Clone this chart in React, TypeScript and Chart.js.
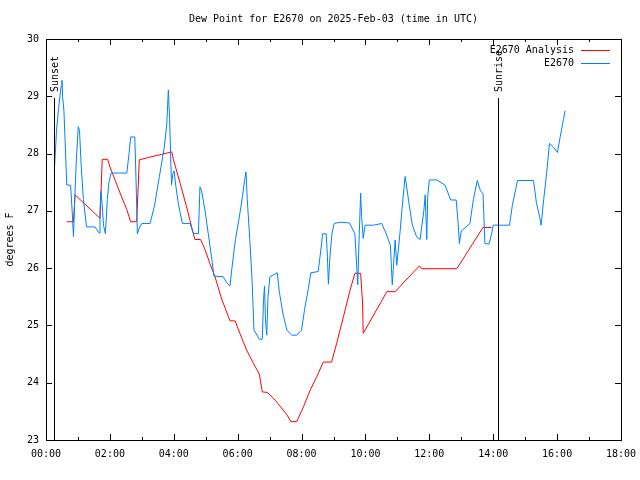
import { useEffect, useRef } from 'react';
import { Chart, registerables } from 'chart.js';

Chart.register(...registerables);

const FONT = '"DejaVu Sans Mono", "Liberation Mono", monospace';

const TITLE = 'Dew Point for E2670 on 2025-Feb-03 (time in UTC)';
const Y_LABEL = 'degrees F';
const ANALYSIS_LABEL = 'E2670 Analysis';
const OBS_LABEL = 'E2670';

const X_MIN = 0;
const X_MAX = 18;
const Y_MIN = 23;
const Y_MAX = 30;

// hours (UTC, decimal) and dew point values (°F)
const analysisHours = [
  0.65, 0.86, 0.91, 1.69, 1.76, 1.93, 2.0, 2.32, 2.53, 2.65, 2.84, 2.92, 3.26, 3.57, 3.94,
  3.99, 4.2, 4.4, 4.56, 4.66, 4.84, 4.98, 5.13, 5.29, 5.5, 5.76, 5.92, 6.07, 6.28, 6.49,
  6.68, 6.77, 6.93, 7.12, 7.33, 7.54, 7.67, 7.85, 8.06, 8.27, 8.48, 8.68, 8.94, 9.1, 9.31,
  9.52, 9.67, 9.85, 9.91, 9.93, 10.67, 10.93, 11.08, 11.69, 11.76, 12.86, 13.68, 13.95,
];
const analysisValues = [
  26.81, 26.81, 27.28, 26.87, 27.9, 27.9, 27.77, 27.31, 27.02, 26.81, 26.81, 27.89, 27.94, 27.98, 28.03,
  27.89, 27.48, 27.07, 26.72, 26.5, 26.5, 26.32, 26.08, 25.85, 25.46, 25.08, 25.08, 24.86, 24.57, 24.34,
  24.15, 23.84, 23.83, 23.73, 23.59, 23.44, 23.32, 23.32, 23.58, 23.87, 24.11, 24.36, 24.36, 24.69, 25.15,
  25.62, 25.91, 25.91, 25.39, 24.86, 25.59, 25.59, 25.68, 26.04, 25.99, 25.99, 26.71, 26.71,
];

const obsHours = [
  0.26, 0.33, 0.39, 0.47, 0.5, 0.52, 0.56, 0.6, 0.65, 0.77, 0.82, 0.86, 0.9, 0.95, 1.01,
  1.05, 1.1, 1.17, 1.27, 1.53, 1.67, 1.69, 1.72, 1.76, 1.8, 1.86, 1.92, 1.97, 2.04, 2.53,
  2.6, 2.65, 2.78, 2.82, 2.86, 2.92, 3.0, 3.26, 3.4, 3.55, 3.7, 3.78, 3.83, 3.87, 3.91,
  3.93, 3.97, 4.01, 4.06, 4.15, 4.27, 4.51, 4.61, 4.77, 4.82, 4.87, 4.98, 5.08, 5.18, 5.26,
  5.55, 5.65, 5.76, 5.82, 5.93, 6.04, 6.15, 6.22, 6.26, 6.3, 6.38, 6.45, 6.51, 6.68, 6.77,
  6.81, 6.84, 6.87, 6.91, 6.95, 7.01, 7.24, 7.3, 7.42, 7.54, 7.69, 7.85, 8.0, 8.1, 8.2,
  8.29, 8.52, 8.6, 8.66, 8.77, 8.81, 8.84, 8.89, 8.95, 9.02, 9.2, 9.5, 9.67, 9.73, 9.76,
  9.8, 9.85, 9.88, 9.93, 9.99, 10.25, 10.51, 10.65, 10.78, 10.84, 10.93, 10.98, 11.03, 11.09, 11.14,
  11.24, 11.27, 11.37, 11.47, 11.6, 11.71, 11.83, 11.87, 11.92, 11.95, 12.0, 12.23, 12.49, 12.67, 12.84,
  12.9, 12.94, 13.0, 13.27, 13.38, 13.5, 13.6, 13.68, 13.74, 13.87, 13.95, 14.0, 14.51, 14.6, 14.76,
  15.26, 15.35, 15.45, 15.5, 15.58, 15.68, 15.76, 15.9, 16.01, 16.1, 16.2, 16.25,
];
const obsValues = [
  27.68, 28.41, 28.76, 29.17, 29.28, 28.99, 28.76, 28.2, 27.45, 27.45, 26.99, 26.55, 27.22, 27.9, 28.47,
  28.4, 27.8, 27.2, 26.72, 26.72, 26.61, 27.0, 27.35, 27.1, 26.75, 26.6, 27.2, 27.5, 27.66, 27.66,
  28.0, 28.29, 28.29, 27.5, 26.6, 26.7, 26.78, 26.78, 27.1, 27.6, 28.1, 28.5, 29.11, 28.6, 27.8,
  27.45, 27.65, 27.7, 27.45, 27.1, 26.78, 26.78, 26.61, 26.6, 27.42, 27.35, 27.0, 26.6, 26.2, 25.86,
  25.85, 25.75, 25.69, 26.0, 26.5, 26.85, 27.25, 27.55, 27.68, 27.2, 26.5, 25.8, 24.92, 24.76, 24.76,
  25.45, 25.69, 25.1, 24.83, 25.5, 25.85, 25.92, 25.6, 25.2, 24.92, 24.83, 24.83, 24.92, 25.3, 25.6,
  25.92, 25.94, 26.3, 26.6, 26.6, 26.2, 25.72, 26.2, 26.6, 26.78, 26.8, 26.79, 26.6, 26.0, 25.71,
  26.49, 27.31, 26.9, 26.52, 26.75, 26.75, 26.78, 26.6, 26.4, 25.71, 26.49, 26.05, 26.32, 26.67, 27.01,
  27.6, 27.5, 27.1, 26.75, 26.55, 26.5, 27.01, 27.28, 26.5, 27.25, 27.54, 27.54, 27.45, 27.19, 27.19,
  26.8, 26.43, 26.65, 26.78, 27.2, 27.53, 27.35, 27.3, 26.43, 26.42, 26.6, 26.75, 26.75, 27.1, 27.53,
  27.53, 27.15, 26.9, 26.75, 27.2, 27.7, 28.18, 28.1, 28.02, 28.3, 28.6, 28.75,
];

const sunLabels = ['Sunset', 'Sunrise'];
const sunHours = [0.25, 14.15];
const SUN_LINE_TOP = 28.97;

const ANALYSIS_COLOR = '#ff0000';
const OBS_COLOR = '#0080ff';

function pad2(n: number) {
  return n < 10 ? '0' + n : String(n);
}

const overlayPlugin = {
  id: 'gnuplotOverlay',
  afterDraw(chart: any) {
    const ctx = chart.ctx;
    const xs = chart.scales.x;
    const ys = chart.scales.y;
    const { left, right, top, bottom } = chart.chartArea;
    ctx.save();
    ctx.strokeStyle = '#000';
    ctx.fillStyle = '#000';
    ctx.lineWidth = 1;

    // frame
    ctx.strokeRect(Math.round(left) + 0.5, Math.round(top) + 0.5, Math.round(right - left), Math.round(bottom - top));

    // x ticks (inward, mirrored)
    ctx.beginPath();
    for (let h = X_MIN; h <= X_MAX; h++) {
      const px = Math.round(xs.getPixelForValue(h)) + 0.5;
      const len = h % 2 === 0 ? 6 : 3;
      ctx.moveTo(px, bottom);
      ctx.lineTo(px, bottom - len);
      ctx.moveTo(px, top);
      ctx.lineTo(px, top + len);
    }
    // y ticks
    for (let v = Y_MIN; v <= Y_MAX; v++) {
      const py = Math.round(ys.getPixelForValue(v)) + 0.5;
      ctx.moveTo(left, py);
      ctx.lineTo(left + 6, py);
      ctx.moveTo(right, py);
      ctx.lineTo(right - 6, py);
    }
    ctx.stroke();

    // sunset / sunrise
    ctx.font = '10px ' + FONT;
    for (let i = 0; i < sunHours.length; i++) {
      const px = Math.round(xs.getPixelForValue(sunHours[i])) + 0.5;
      const yTop = ys.getPixelForValue(SUN_LINE_TOP);
      ctx.beginPath();
      ctx.moveTo(px, yTop);
      ctx.lineTo(px, bottom);
      ctx.stroke();
      ctx.save();
      ctx.translate(px + 1, yTop - 6);
      ctx.rotate(-Math.PI / 2);
      ctx.textAlign = 'left';
      ctx.textBaseline = 'middle';
      ctx.fillText(sunLabels[i], 0, 0);
      ctx.restore();
    }

    // title
    ctx.textAlign = 'center';
    ctx.textBaseline = 'middle';
    ctx.fillText(TITLE, (left + right) / 2, 19);

    // legend
    const items = chart.data.datasets;
    items.forEach((ds: any, i: number) => {
      const y = Math.round(top + 11 + i * 13) + 0.5;
      ctx.textAlign = 'right';
      ctx.fillStyle = '#000';
      ctx.fillText(ds.label, right - 47, y);
      ctx.strokeStyle = ds.borderColor;
      ctx.beginPath();
      ctx.moveTo(right - 40, y);
      ctx.lineTo(right - 11, y);
      ctx.stroke();
    });
    ctx.restore();
  },
};

export default function App() {
  const ref = useRef<HTMLCanvasElement | null>(null);

  useEffect(() => {
    if (!ref.current) return;
    const chart = new Chart(ref.current, {
      type: 'line',
      data: {
        datasets: [
          {
            label: ANALYSIS_LABEL,
            data: analysisHours.map((h, i) => ({ x: h, y: analysisValues[i] })),
            borderColor: ANALYSIS_COLOR,
            backgroundColor: ANALYSIS_COLOR,
            borderWidth: 1,
            pointRadius: 0,
            tension: 0,
            order: 1,
          },
          {
            label: OBS_LABEL,
            data: obsHours.map((h, i) => ({ x: h, y: obsValues[i] })),
            borderColor: OBS_COLOR,
            backgroundColor: OBS_COLOR,
            borderWidth: 1,
            pointRadius: 0,
            tension: 0,
            order: 0,
          },
        ],
      },
      options: {
        responsive: false,
        animation: false,
        layout: { padding: { top: 39, right: 19, left: 0, bottom: 0 } },
        plugins: {
          legend: { display: false },
          tooltip: { enabled: false },
          title: { display: false },
        },
        scales: {
          x: {
            type: 'linear',
            min: X_MIN,
            max: X_MAX,
            grid: { drawOnChartArea: false, drawTicks: false },
            border: { display: false },
            ticks: {
              stepSize: 2,
              autoSkip: false,
              maxRotation: 0,
              padding: 8,
              color: '#000',
              font: { family: FONT, size: 10 },
              callback: (v: any) => pad2(Number(v)) + ':00',
            },
            afterFit: (s: any) => {
              s.height = 40;
              s.paddingLeft = 0;
              s.paddingRight = 0;
            },
          },
          y: {
            type: 'linear',
            min: Y_MIN,
            max: Y_MAX,
            grid: { drawOnChartArea: false, drawTicks: false },
            border: { display: false },
            ticks: {
              stepSize: 1,
              padding: 7,
              color: '#000',
              font: { family: FONT, size: 10 },
              callback: (v: any) => String(v),
            },
            title: {
              display: true,
              text: Y_LABEL,
              color: '#000',
              font: { family: FONT, size: 10 },
              padding: { top: 4, bottom: 0 },
            },
            afterFit: (s: any) => {
              s.width = 46;
              s.paddingTop = 0;
              s.paddingBottom = 0;
            },
          },
        },
      },
      plugins: [overlayPlugin],
    } as any);
    return () => chart.destroy();
  }, []);

  return (
    <div style={{ position: 'fixed', left: 0, top: 0, width: 640, height: 480, background: '#fff' }}>
      <canvas ref={ref} width={640} height={480} style={{ display: 'block' }} />
    </div>
  );
}
